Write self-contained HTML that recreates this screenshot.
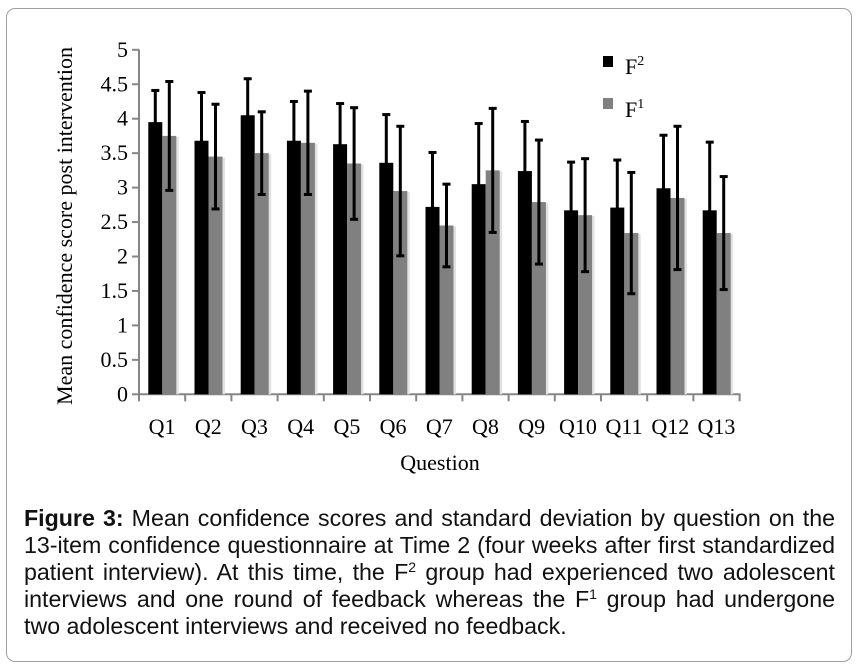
<!DOCTYPE html>
<html><head><meta charset="utf-8"><style>
body{margin:0;background:#fff;width:858px;height:668px;overflow:hidden;position:relative}
#frame{position:absolute;left:6px;top:8px;width:846px;height:654px;border:1px solid #a0a0a0;border-radius:9px;box-sizing:border-box}
#cap{position:absolute;left:24px;top:505px;width:811px;font-family:"Liberation Sans",Arial,sans-serif;font-size:23.2px;line-height:27px;color:#111}
#cap div{text-align:justify;text-align-last:justify;white-space:nowrap}
#cap div.last{text-align-last:left}
sup{font-size:14px;vertical-align:8px;line-height:0}
svg{position:absolute;left:0;top:0}
</style></head><body>
<div id="frame"></div>
<svg id="chart" width="858" height="500" font-family="'Liberation Serif',serif"></svg>
<div id="cap">
<div><b>Figure 3:</b> Mean confidence scores and standard deviation by question on the</div>
<div>13-item confidence questionnaire at Time 2 (four weeks after first standardized</div>
<div>patient interview). At this time, the F<sup>2</sup> group had experienced two adolescent</div>
<div>interviews and one round of feedback whereas the F<sup>1</sup> group had undergone</div>
<div class="last">two adolescent interviews and received no feedback.</div>
</div>
<script>
const categories=["Q1","Q2","Q3","Q4","Q5","Q6","Q7","Q8","Q9","Q10","Q11","Q12","Q13"];
const f2Means=[3.95,3.68,4.05,3.68,3.63,3.36,2.72,3.05,3.24,2.67,2.71,2.99,2.67];
const f2SD=[0.46,0.70,0.53,0.57,0.59,0.70,0.79,0.88,0.72,0.70,0.69,0.77,0.99];
const f1Means=[3.75,3.45,3.50,3.65,3.35,2.95,2.45,3.25,2.79,2.60,2.34,2.85,2.34];
const f1SD=[0.79,0.76,0.60,0.75,0.81,0.94,0.60,0.90,0.90,0.82,0.88,1.04,0.82];
const yTicks=["0","0.5","1","1.5","2","2.5","3","3.5","4","4.5","5"];
const svg=document.getElementById('chart');
const NS='http://www.w3.org/2000/svg';
const X0=139,Y0=394.3,PX=68.9,STEP=46.2,BW=14,FS=22;
const y=v=>Y0-v*PX;
const xc=i=>X0+i*STEP;
function mk(t,a){const e=document.createElementNS(NS,t);for(const k in a)e.setAttribute(k,a[k]);svg.appendChild(e);return e;}
let ax=mk('line',{x1:X0,y1:y(5),x2:X0,y2:Y0,stroke:'#868686','stroke-width':2});


let bx=mk('line',{x1:X0-1,y1:Y0,x2:X0+13*STEP+1,y2:Y0,stroke:'#868686','stroke-width':2});


yTicks.forEach((t,i)=>{
  const v=parseFloat(t);
  mk('line',{x1:X0-7,y1:y(v),x2:X0,y2:y(v),stroke:'#868686','stroke-width':2});
  const tx=mk('text',{x:128,y:y(v)+7,'text-anchor':'end','font-size':FS,fill:'#000'});
  tx.textContent=t;
  
  
});
for(let i=0;i<=13;i++)mk('line',{x1:xc(i),y1:Y0,x2:xc(i),y2:Y0+7,stroke:'#868686','stroke-width':2});
function err(cx,m,s){
  const a=mk('g',{stroke:'#000','stroke-width':3});
  
  
  [[cx,y(m-s),cx,y(m+s)],[cx-4,y(m+s),cx+4,y(m+s)],[cx-4,y(m-s),cx+4,y(m-s)]].forEach(l=>{
    const e=document.createElementNS(NS,'line');
    e.setAttribute('x1',l[0]);e.setAttribute('y1',l[1]);e.setAttribute('x2',l[2]);e.setAttribute('y2',l[3]);a.appendChild(e);});
}
categories.forEach((c,i)=>{
  const s=xc(i)+9.3;
  mk('rect',{x:s+BW+BW-0.5,y:y(f1Means[i])+1,width:3,height:Y0-y(f1Means[i])-1,fill:'#e2e2e2'});
  const b2=mk('rect',{x:s,y:y(f2Means[i]),width:BW,height:Y0-y(f2Means[i]),fill:'#000'});
  
  
  const b1=mk('rect',{x:s+BW,y:y(f1Means[i]),width:BW,height:Y0-y(f1Means[i]),fill:'#808080'});
  
  
  err(s+BW/2,f2Means[i],f2SD[i]);
  err(s+BW*1.5,f1Means[i],f1SD[i]);
  const t=mk('text',{x:xc(i)+STEP/2,y:434,'text-anchor':'middle','font-size':FS,fill:'#000'});
  t.textContent=c;
  
  
});
const xt=mk('text',{x:440,y:470,'text-anchor':'middle','font-size':FS,fill:'#000'});
xt.textContent='Question';


const yt=mk('text',{x:0,y:0,transform:'translate(72,226) rotate(-90)','text-anchor':'middle','font-size':FS,fill:'#000'});
yt.textContent='Mean confidence score post intervention';


const l1=mk('g',{});


mk('rect',{x:603,y:56,width:10,height:11,fill:'#000'});
let t1=mk('text',{x:625,y:74,'font-size':FS,fill:'#000'});
t1.innerHTML='F<tspan font-size="14" dy="-9">2</tspan>';
const l2=mk('g',{});


mk('rect',{x:603,y:98,width:10,height:11,fill:'#808080'});
let t2=mk('text',{x:625,y:117,'font-size':FS,fill:'#000'});
t2.innerHTML='F<tspan font-size="14" dy="-9">1</tspan>';
</script>
</body></html>
